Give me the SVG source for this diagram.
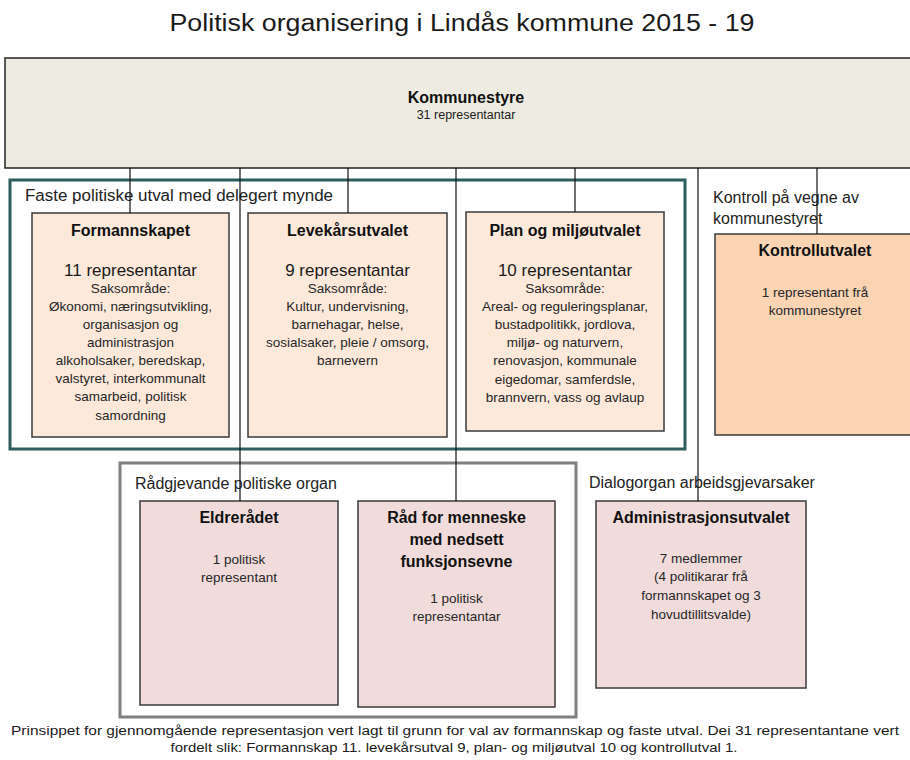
<svg xmlns="http://www.w3.org/2000/svg" width="910" height="760" viewBox="0 0 910 760">
<style>
text{font-family:"Liberation Sans",Arial,sans-serif;fill:#1a1a1a}
.t{font-weight:bold;font-size:16px;text-anchor:middle;fill:#111}
.b{font-size:13.5px;text-anchor:middle;fill:#262626}
.r{font-size:17px;text-anchor:middle;fill:#1a1a1a}
.lab{font-size:16px;fill:#222}
.box{stroke:#3a3a3a;stroke-width:1.5}
.peach{fill:#fde9d9}
.pink{fill:#f2dcdb}
.orange{fill:#fbd4b4}
#connectors line{stroke:#111;stroke-width:1.2}
</style>
<rect width="910" height="760" fill="#ffffff"/>
<text x="462" y="31" font-size="23" text-anchor="middle" textLength="585" lengthAdjust="spacingAndGlyphs">Politisk organisering i Lindås kommune 2015 - 19</text>

<g id="kommunestyre">
<rect x="5" y="58" width="925" height="110" fill="#eeece1" stroke="#222" stroke-width="1.5"/>
<text class="t" x="466" y="103">Kommunestyre</text>
<text x="466" y="119" font-size="12.5" text-anchor="middle">31 representantar</text>
</g>

<g id="faste">
<rect x="10" y="180" width="675" height="269" fill="none" stroke="#2f5d5e" stroke-width="3"/>
<text class="lab" x="25" y="201" textLength="308" lengthAdjust="spacingAndGlyphs">Faste politiske utval med delegert mynde</text>
</g>

<g id="formannskapet">
<rect class="box peach" x="32" y="213" width="197" height="224"/>
<text class="t" x="130.5" y="236">Formannskapet</text>
<text class="r" x="130.5" y="276">11 representantar</text>
<text class="b" x="130.5" y="293">Saksområde:</text>
<text class="b" x="130.5" y="311">Økonomi, næringsutvikling,</text>
<text class="b" x="130.5" y="329">organisasjon og</text>
<text class="b" x="130.5" y="347">administrasjon</text>
<text class="b" x="130.5" y="365">alkoholsaker, beredskap,</text>
<text class="b" x="130.5" y="383">valstyret, interkommunalt</text>
<text class="b" x="130.5" y="401">samarbeid, politisk</text>
<text class="b" x="130.5" y="420">samordning</text>
</g>

<g id="levekar">
<rect class="box peach" x="248" y="213" width="199" height="224"/>
<text class="t" x="347.5" y="236">Levekårsutvalet</text>
<text class="r" x="347.5" y="276">9 representantar</text>
<text class="b" x="347.5" y="293">Saksområde:</text>
<text class="b" x="347.5" y="311">Kultur, undervisning,</text>
<text class="b" x="347.5" y="329">barnehagar, helse,</text>
<text class="b" x="347.5" y="347">sosialsaker, pleie / omsorg,</text>
<text class="b" x="347.5" y="365">barnevern</text>
</g>

<g id="plan">
<rect class="box peach" x="466" y="212" width="198" height="219"/>
<text class="t" x="565" y="236">Plan og miljøutvalet</text>
<text class="r" x="565" y="276">10 representantar</text>
<text class="b" x="565" y="293">Saksområde:</text>
<text class="b" x="565" y="311">Areal- og reguleringsplanar,</text>
<text class="b" x="565" y="329">bustadpolitikk, jordlova,</text>
<text class="b" x="565" y="347">miljø- og naturvern,</text>
<text class="b" x="565" y="365">renovasjon, kommunale</text>
<text class="b" x="565" y="384">eigedomar, samferdsle,</text>
<text class="b" x="565" y="402">brannvern, vass og avlaup</text>
</g>

<g id="kontroll">
<text class="lab" x="713" y="203">Kontroll på vegne av</text>
<text class="lab" x="713" y="224">kommunestyret</text>
<rect class="box orange" x="715" y="234" width="200" height="201"/>
<text class="t" x="815" y="256">Kontrollutvalet</text>
<text class="b" x="815" y="297">1 representant frå</text>
<text class="b" x="815" y="315">kommunestyret</text>
</g>

<g id="radgjevande">
<rect x="120" y="463" width="456" height="254" fill="none" stroke="#7f7f7f" stroke-width="3"/>
<text class="lab" x="135" y="489">Rådgjevande politiske organ</text>
</g>

<g id="eldreradet">
<rect class="box pink" x="140" y="501" width="198" height="204"/>
<text class="t" x="239" y="523">Eldrerådet</text>
<text class="b" x="239" y="564">1 politisk</text>
<text class="b" x="239" y="582">representant</text>
</g>

<g id="rad-menneske">
<rect class="box pink" x="358" y="501" width="197" height="206"/>
<text class="t" x="456.5" y="523">Råd for menneske</text>
<text class="t" x="456.5" y="545">med nedsett</text>
<text class="t" x="456.5" y="567">funksjonsevne</text>
<text class="b" x="456.5" y="603">1 politisk</text>
<text class="b" x="456.5" y="621">representantar</text>
</g>

<g id="administrasjon">
<text class="lab" x="589" y="488">Dialogorgan arbeidsgjevarsaker</text>
<rect class="box pink" x="596" y="501" width="210" height="187"/>
<text class="t" x="701" y="523">Administrasjonsutvalet</text>
<text class="b" x="701" y="563">7 medlemmer</text>
<text class="b" x="701" y="581">(4 politikarar frå</text>
<text class="b" x="701" y="600">formannskapet og 3</text>
<text class="b" x="701" y="619">hovudtillitsvalde)</text>
</g>

<g id="connectors">
<line x1="130" y1="168" x2="130" y2="213"/>
<line x1="240" y1="168" x2="240" y2="501"/>
<line x1="348" y1="168" x2="348" y2="213"/>
<line x1="456" y1="168" x2="456" y2="501"/>
<line x1="575" y1="168" x2="575" y2="212"/>
<line x1="698" y1="168" x2="698" y2="501"/>
<line x1="817" y1="168" x2="817" y2="234"/>
</g>

<g id="caption">
<text x="455" y="735" font-size="12.5" text-anchor="middle" textLength="888" lengthAdjust="spacingAndGlyphs">Prinsippet for gjennomgående representasjon vert lagt til grunn for val av formannskap og faste utval. Dei 31 representantane vert</text>
<text x="454" y="752" font-size="12.5" text-anchor="middle" textLength="567" lengthAdjust="spacingAndGlyphs">fordelt slik: Formannskap 11. levekårsutval 9, plan- og miljøutval 10 og kontrollutval 1.</text>
</g>
</svg>
